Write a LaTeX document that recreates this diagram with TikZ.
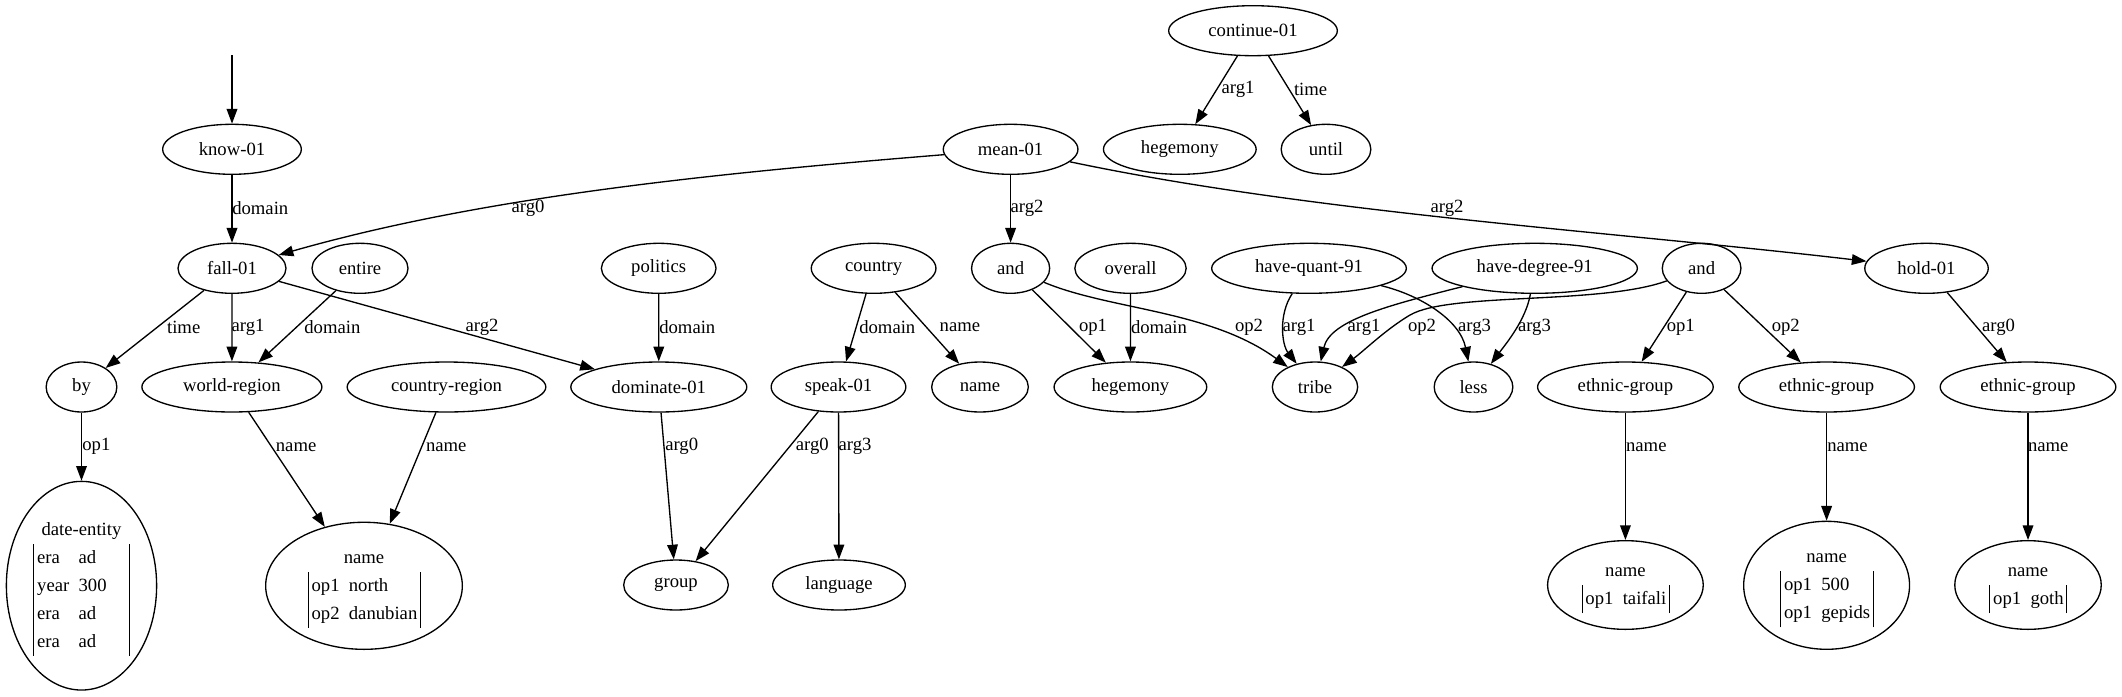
\documentclass[tikz,border=0pt]{standalone}
\usepackage{fontspec}
\setmainfont{Liberation Serif}
\usepackage{tikz}
\usetikzlibrary{arrows.meta, shapes.geometric}

\newcommand{\attrtab}[2]{%
  \begin{tabular}{|@{\hspace{2.5pt}}l@{\hspace{7pt}}l@{\hspace{2pt}}|}
    \multicolumn{2}{c}{#1}\\
    #2
  \end{tabular}}

\begin{document}
\begin{tikzpicture}[
    x=0.75pt, y=-0.75pt,
    >={Triangle[length=11pt, width=8pt]},
    every node/.style={font=\fontsize{14}{21}\selectfont},
    concept/.style={draw, ellipse, line width=1pt, inner sep=0pt, minimum height=37.5pt, minimum width=#1},
    concept/.default=60pt,
    lab/.style={inner sep=0pt},
    rel/.style={->, line width=1pt},
]
    \useasboundingbox (0,0) rectangle (2122,696);

    \node[concept=126.5pt] (cont) at (1253,30.7) {continue-01};
    \node[concept=104pt] (know) at (232,149.3) {know-01};
    \node[concept=101pt] (mean) at (1010.6,149.3) {mean-01};
    \node[concept=114.5pt] (hegtop) at (1179.8,149.3) {hegemony};
    \node[concept=67.25pt] (until) at (1326,149.3) {until};

    \node[concept=81pt] (fall) at (232,268.3) {fall-01};
    \node[concept=72pt] (entire) at (360,268.3) {entire};
    \node[concept=86pt] (politics) at (658.7,268.3) {politics};
    \node[concept=93.5pt] (country) at (873.6,268.3) {country};
    \node[concept=58.6pt] (andA) at (1010.6,268.3) {and};
    \node[concept=83.5pt] (overall) at (1130.5,268.3) {overall};
    \node[concept=146pt] (hquant) at (1309,268.3) {have-quant-91};
    \node[concept=154pt] (hdegree) at (1534.7,268.3) {have-degree-91};
    \node[concept=59pt] (andB) at (1701.6,268.3) {and};
    \node[concept=92.6pt] (hold) at (1926.5,268.3) {hold-01};

    \node[concept=53pt] (by) at (81.5,387) {by};
    \node[concept=135pt] (wregion) at (231.9,387) {world-region};
    \node[concept=149pt] (cregion) at (446.5,387) {country-region};
    \node[concept=132pt] (dominate) at (658.8,387) {dominate-01};
    \node[concept=101pt] (speak) at (838.5,387) {speak-01};
    \node[concept=72.5pt] (cname) at (980,387) {name};
    \node[concept=114.5pt] (hegemony) at (1130.4,387) {hegemony};
    \node[concept=64pt] (tribe) at (1315,387) {tribe};
    \node[concept=59pt] (less) at (1473.5,387) {less};
    \node[concept=131.75pt] (ethA) at (1625.4,387) {ethnic-group};
    \node[concept=131.75pt] (ethB) at (1826.6,387) {ethnic-group};
    \node[concept=131.75pt] (ethC) at (2028,387) {ethnic-group};

    \node[concept=112.7pt, minimum height=156.5pt] (date) at (81.5,585.7) {\attrtab{date-entity}{era & ad\\ year & 300\\ era & ad\\ era & ad}};
    \node[concept=147.5pt, minimum height=95.3pt] (nnorth) at (364,585.8) {\attrtab{name}{op1 & north\\ op2 & danubian}};
    \node[concept=78.5pt] (group) at (676,585) {group};
    \node[concept=99.5pt] (language) at (839,585) {language};
    \node[concept=116.75pt, minimum height=66.5pt] (ntaifali) at (1625.4,585) {\attrtab{name}{op1 & taifali}};
    \node[concept=124.4pt, minimum height=96pt] (ngepids) at (1826.6,585.3) {\attrtab{name}{op1 & 500\\ op1 & gepids}};
    \node[concept=109.85pt, minimum height=66.5pt] (ngoth) at (2028,585) {\attrtab{name}{op1 & goth}};

    \coordinate (top) at (232,55);
    \draw[rel] (top) -- (know);
    \draw[rel] (know) -- (fall) node[lab] at (260.3,208.3) {domain};
    \draw[rel] (mean) .. controls (692,175) and (475,199) .. (fall) node[lab] at (528,208.3) {arg0};
    \draw[rel] (mean) -- (andA) node[lab] at (1027,208.3) {arg2};
    \draw[rel] (mean) .. controls (1313,213) and (1617,232) .. (hold) node[lab] at (1447,208.3) {arg2};
    \draw[rel] (cont) -- (hegtop) node[lab] at (1238,89.3) {arg1};
    \draw[rel] (cont) -- (until) node[lab] at (1310.6,89.3) {time};

    \draw[rel] (fall) -- (by) node[lab] at (183.7,327.3) {time};
    \draw[rel] (fall) -- (wregion) node[lab] at (248,327.3) {arg1};
    \draw[rel] (entire) -- (wregion) node[lab] at (332.4,327.3) {domain};
    \draw[rel] (fall) -- (dominate) node[lab] at (482,327.3) {arg2};
    \draw[rel] (politics) -- (dominate) node[lab] at (687.3,327.3) {domain};
    \draw[rel] (country) -- (speak) node[lab] at (887.3,327.3) {domain};
    \draw[rel] (country) -- (cname) node[lab] at (959.9,327.3) {name};
    \draw[rel] (andA) -- (hegemony) node[lab] at (1093,327.3) {op1};
    \draw[rel] (overall) -- (hegemony) node[lab] at (1159,327.3) {domain};
    \draw[rel] (andA) .. controls (1110,310) and (1210,310) .. (tribe) node[lab] at (1249,327.3) {op2};
    \draw[rel] (hquant) .. controls (1278,315) and (1282,345) .. (tribe) node[lab] at (1299,327.3) {arg1};
    \draw[rel] (hdegree) .. controls (1390,305) and (1330,320) .. (tribe) node[lab] at (1364,327.3) {arg1};
    \draw[rel] (andB) .. controls (1600,305) and (1450,292) .. (1410,315) .. controls (1385,330) and (1365,350) .. (tribe) node[lab] at (1422,327.3) {op2};
    \draw[rel] (hquant) .. controls (1420,295) and (1460,320) .. (less) node[lab] at (1474.6,327.3) {arg3};
    \draw[rel] (hdegree) .. controls (1526,320) and (1505,345) .. (less) node[lab] at (1534.4,327.3) {arg3};
    \draw[rel] (andB) -- (ethA) node[lab] at (1680.8,327.3) {op1};
    \draw[rel] (andB) -- (ethB) node[lab] at (1785.8,327.3) {op2};
    \draw[rel] (hold) -- (ethC) node[lab] at (1998.5,327.3) {arg0};

    \draw[rel] (by) -- (date) node[lab] at (96.4,446.7) {op1};
    \draw[rel] (wregion) -- (nnorth) node[lab] at (296.1,446.7) {name};
    \draw[rel] (cregion) -- (nnorth) node[lab] at (446.3,446.7) {name};
    \draw[rel] (dominate) -- (group) node[lab] at (681.7,446.7) {arg0};
    \draw[rel] (speak) -- (group) node[lab] at (812.3,446.7) {arg0};
    \draw[rel] (speak) -- (language) node[lab] at (855,446.7) {arg3};
    \draw[rel] (ethA) -- (ntaifali) node[lab] at (1646.3,446.7) {name};
    \draw[rel] (ethB) -- (ngepids) node[lab] at (1847.5,446.7) {name};
    \draw[rel] (ethC) -- (ngoth) node[lab] at (2048.2,446.7) {name};
\end{tikzpicture}
\end{document}
